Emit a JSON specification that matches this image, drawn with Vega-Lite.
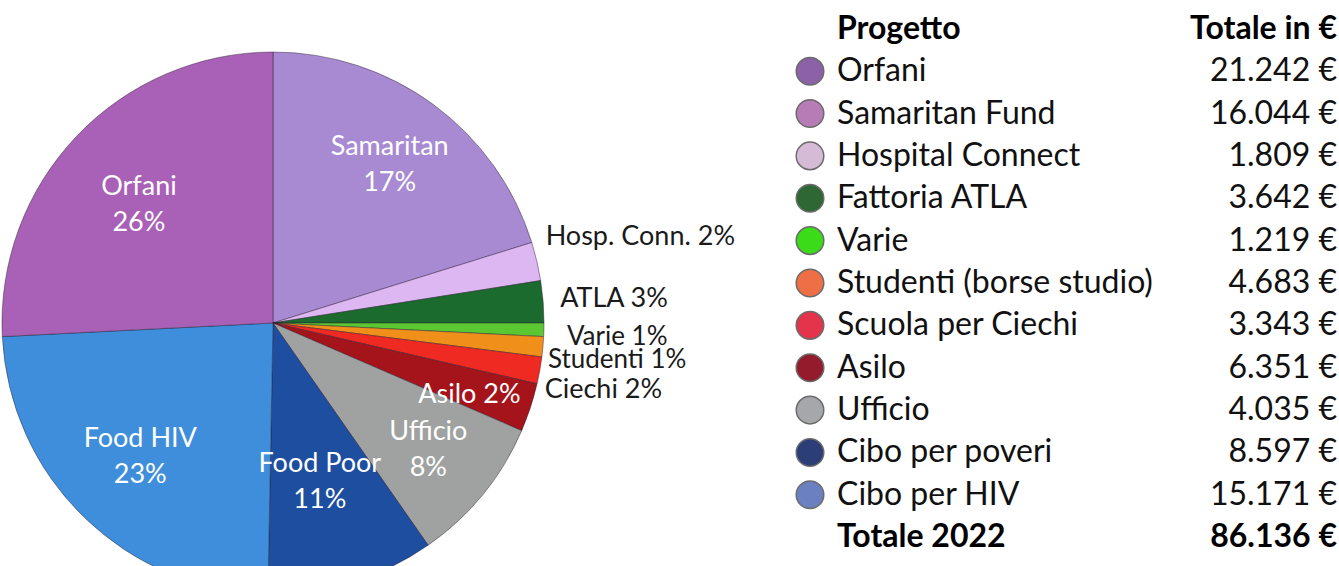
{
  "$schema": "https://vega.github.io/schema/vega-lite/v6.json",
  "background": "white",
  "padding": 0,
  "spacing": 266,
  "bounds": "flush",
  "resolve": {"scale": {"color": "independent"}},
  "config": {
    "view": {"stroke": null},
    "locale": {"number": {"decimal": ",", "thousands": ".", "grouping": [3], "currency": ["", " €"]}}
  },
  "datasets": {
    "pie": [
      {"idx": 1, "slice": "Samaritan", "share": 20.2, "inLabel": "Samaritan\n17%", "outLabel": ""},
      {"idx": 2, "slice": "Hosp. Conn.", "share": 2.3, "inLabel": "", "outLabel": "Hosp. Conn. 2%"},
      {"idx": 3, "slice": "ATLA", "share": 2.5, "inLabel": "", "outLabel": "ATLA 3%"},
      {"idx": 4, "slice": "Varie", "share": 0.8, "inLabel": "", "outLabel": "Varie 1%"},
      {"idx": 5, "slice": "Studenti", "share": 1.2, "inLabel": "", "outLabel": "Studenti 1%"},
      {"idx": 6, "slice": "Ciechi", "share": 1.6, "inLabel": "", "outLabel": "Ciechi 2%"},
      {"idx": 7, "slice": "Asilo", "share": 2.9, "inLabel": "Asilo 2%", "outLabel": ""},
      {"idx": 8, "slice": "Ufficio", "share": 8.8, "inLabel": "Ufficio\n8%", "outLabel": ""},
      {"idx": 9, "slice": "Food Poor", "share": 10.0, "inLabel": "Food Poor\n11%", "outLabel": ""},
      {"idx": 10, "slice": "Food HIV", "share": 23.9, "inLabel": "Food HIV\n23%", "outLabel": ""},
      {"idx": 11, "slice": "Orfani", "share": 25.8, "inLabel": "Orfani\n26%", "outLabel": ""}
    ],
    "table": [
      {"kind": "header", "name": "Progetto", "heading": "Totale in €"},
      {"kind": "item", "name": "Orfani", "amount": 21242},
      {"kind": "item", "name": "Samaritan Fund", "amount": 16044},
      {"kind": "item", "name": "Hospital Connect", "amount": 1809},
      {"kind": "item", "name": "Fattoria ATLA", "amount": 3642},
      {"kind": "item", "name": "Varie", "amount": 1219},
      {"kind": "item", "name": "Studenti (borse studio)", "amount": 4683},
      {"kind": "item", "name": "Scuola per Ciechi", "amount": 3343},
      {"kind": "item", "name": "Asilo", "amount": 6351},
      {"kind": "item", "name": "Ufficio", "amount": 4035},
      {"kind": "item", "name": "Cibo per poveri", "amount": 8597},
      {"kind": "item", "name": "Cibo per HIV", "amount": 15171},
      {"kind": "total", "name": "Totale 2022", "amount": 86136}
    ]
  },
  "hconcat": [
    {
      "width": 542,
      "height": 646,
      "data": {"name": "pie"},
      "encoding": {
        "theta": {"field": "share", "type": "quantitative", "stack": true},
        "order": {"field": "idx", "type": "quantitative"}
      },
      "layer": [
        {
          "mark": {"type": "arc", "radius": 271, "stroke": "#2a1a30", "strokeWidth": 1, "strokeOpacity": 0.45},
          "encoding": {
            "color": {
              "field": "slice", "type": "nominal", "legend": null,
              "scale": {
                "domain": ["Samaritan", "Hosp. Conn.", "ATLA", "Varie", "Studenti", "Ciechi", "Asilo", "Ufficio", "Food Poor", "Food HIV", "Orfani"],
                "range": ["#A88AD3", "#DDB7F2", "#1B6B2E", "#5BC832", "#F0901A", "#EE2A22", "#A5141B", "#9FA2A0", "#1D4E9F", "#3E8EDB", "#A861B6"]
              }
            }
          }
        },
        {
          "mark": {"type": "text", "radius": 185, "dx": 7, "dy": -27, "fill": "white", "font": "Lato", "fontSize": 27, "lineBreak": "\n", "lineHeight": 36, "align": "center", "baseline": "middle"},
          "encoding": {"text": {"condition": {"test": "datum.slice === 'Samaritan'", "field": "inLabel", "type": "nominal"}, "value": ""}}
        },
        {
          "mark": {"type": "text", "radius": 185, "dx": 0, "dy": -9, "fill": "white", "font": "Lato", "fontSize": 27, "lineBreak": "\n", "lineHeight": 36, "align": "center", "baseline": "middle"},
          "encoding": {"text": {"condition": {"test": "datum.slice === 'Orfani'", "field": "inLabel", "type": "nominal"}, "value": ""}}
        },
        {
          "mark": {"type": "text", "radius": 185, "dx": -4, "dy": -17, "fill": "white", "font": "Lato", "fontSize": 27, "lineBreak": "\n", "lineHeight": 36, "align": "center", "baseline": "middle"},
          "encoding": {"text": {"condition": {"test": "datum.slice === 'Food HIV'", "field": "inLabel", "type": "nominal"}, "value": ""}}
        },
        {
          "mark": {"type": "text", "radius": 185, "dx": -7, "dy": -36, "fill": "white", "font": "Lato", "fontSize": 27, "lineBreak": "\n", "lineHeight": 36, "align": "center", "baseline": "middle"},
          "encoding": {"text": {"condition": {"test": "datum.slice === 'Food Poor'", "field": "inLabel", "type": "nominal"}, "value": ""}}
        },
        {
          "mark": {"type": "text", "radius": 185, "dx": 12, "dy": -8, "fill": "white", "font": "Lato", "fontSize": 27, "lineBreak": "\n", "lineHeight": 36, "align": "center", "baseline": "middle"},
          "encoding": {"text": {"condition": {"test": "datum.slice === 'Ufficio'", "field": "inLabel", "type": "nominal"}, "value": ""}}
        },
        {
          "mark": {"type": "text", "radius": 212, "dx": -5, "dy": 6, "fill": "white", "font": "Lato", "fontSize": 27, "align": "center", "baseline": "middle"},
          "encoding": {"text": {"condition": {"test": "datum.slice === 'Asilo'", "field": "inLabel", "type": "nominal"}, "value": ""}}
        },
        {
          "mark": {"type": "text", "radius": 280, "dx": 0, "dy": -22, "fill": "#1a1a1a", "font": "Lato", "fontSize": 27, "align": "left", "baseline": "middle"},
          "encoding": {"text": {"condition": {"test": "datum.slice === 'Hosp. Conn.'", "field": "outLabel", "type": "nominal"}, "value": ""}}
        },
        {
          "mark": {"type": "text", "radius": 280, "dx": 8, "dy": -2, "fill": "#1a1a1a", "font": "Lato", "fontSize": 27, "align": "left", "baseline": "middle"},
          "encoding": {"text": {"condition": {"test": "datum.slice === 'ATLA'", "field": "outLabel", "type": "nominal"}, "value": ""}}
        },
        {
          "mark": {"type": "text", "radius": 280, "dx": 14, "dy": 7, "fill": "#1a1a1a", "font": "Lato", "fontSize": 26, "align": "left", "baseline": "middle"},
          "encoding": {"text": {"condition": {"test": "datum.slice === 'Varie'", "field": "outLabel", "type": "nominal"}, "value": ""}}
        },
        {
          "mark": {"type": "text", "radius": 280, "dx": -4, "dy": 12, "fill": "#1a1a1a", "font": "Lato", "fontSize": 26, "align": "left", "baseline": "middle"},
          "encoding": {"text": {"condition": {"test": "datum.slice === 'Studenti'", "field": "outLabel", "type": "nominal"}, "value": ""}}
        },
        {
          "mark": {"type": "text", "radius": 280, "dx": -4, "dy": 18, "fill": "#1a1a1a", "font": "Lato", "fontSize": 27, "align": "left", "baseline": "middle"},
          "encoding": {"text": {"condition": {"test": "datum.slice === 'Ciechi'", "field": "outLabel", "type": "nominal"}, "value": ""}}
        }
      ]
    },
    {
      "width": 527,
      "height": 566,
      "data": {"name": "table"},
      "encoding": {
        "y": {
          "field": "name", "type": "nominal", "axis": null,
          "scale": {
            "type": "point", "padding": 0.68,
            "domain": ["Progetto", "Orfani", "Samaritan Fund", "Hospital Connect", "Fattoria ATLA", "Varie", "Studenti (borse studio)", "Scuola per Ciechi", "Asilo", "Ufficio", "Cibo per poveri", "Cibo per HIV", "Totale 2022"]
          }
        }
      },
      "layer": [
        {
          "transform": [{"filter": "datum.kind === 'item'"}],
          "mark": {"type": "point", "shape": "circle", "filled": true, "size": 760, "stroke": "#6b6b6b", "strokeWidth": 1.5, "opacity": 1},
          "encoding": {
            "x": {"datum": 0, "type": "quantitative", "axis": null, "scale": {"domain": [0, 1], "nice": false, "zero": false}},
            "color": {
              "field": "name", "type": "nominal", "legend": null,
              "scale": {
                "domain": ["Orfani", "Samaritan Fund", "Hospital Connect", "Fattoria ATLA", "Varie", "Studenti (borse studio)", "Scuola per Ciechi", "Asilo", "Ufficio", "Cibo per poveri", "Cibo per HIV"],
                "range": ["#8D61A7", "#B77BB5", "#D6BBD7", "#2E6634", "#3BDB1A", "#EE6F45", "#E3344B", "#931B2B", "#A6A7AB", "#2C3E78", "#6A80C0"]
              }
            }
          }
        },
        {
          "transform": [{"filter": "datum.kind === 'item'"}],
          "mark": {"type": "text", "align": "left", "baseline": "middle", "dx": 27, "font": "Lato", "fontSize": 32, "fill": "#111111"},
          "encoding": {
            "x": {"datum": 0, "type": "quantitative", "axis": null, "scale": {"domain": [0, 1], "nice": false, "zero": false}},
            "text": {"field": "name", "type": "nominal"}
          }
        },
        {
          "transform": [{"filter": "datum.kind === 'item'"}],
          "mark": {"type": "text", "align": "right", "baseline": "middle", "font": "Lato", "fontSize": 32, "fill": "#111111"},
          "encoding": {
            "x": {"datum": 1, "type": "quantitative", "axis": null, "scale": {"domain": [0, 1], "nice": false, "zero": false}},
            "text": {"field": "amount", "type": "quantitative", "format": "$,.0f"}
          }
        },
        {
          "transform": [{"filter": "datum.kind !== 'item'"}],
          "mark": {"type": "text", "align": "left", "baseline": "middle", "dx": 27, "font": "Lato", "fontSize": 32, "fontWeight": "bold", "fill": "#000000"},
          "encoding": {
            "x": {"datum": 0, "type": "quantitative", "axis": null, "scale": {"domain": [0, 1], "nice": false, "zero": false}},
            "text": {"field": "name", "type": "nominal"}
          }
        },
        {
          "transform": [{"filter": "datum.kind === 'header'"}],
          "mark": {"type": "text", "align": "right", "baseline": "middle", "font": "Lato", "fontSize": 32, "fontWeight": "bold", "fill": "#000000"},
          "encoding": {
            "x": {"datum": 1, "type": "quantitative", "axis": null, "scale": {"domain": [0, 1], "nice": false, "zero": false}},
            "text": {"field": "heading", "type": "nominal"}
          }
        },
        {
          "transform": [{"filter": "datum.kind === 'total'"}],
          "mark": {"type": "text", "align": "right", "baseline": "middle", "font": "Lato", "fontSize": 32, "fontWeight": "bold", "fill": "#000000"},
          "encoding": {
            "x": {"datum": 1, "type": "quantitative", "axis": null, "scale": {"domain": [0, 1], "nice": false, "zero": false}},
            "text": {"field": "amount", "type": "quantitative", "format": "$,.0f"}
          }
        }
      ]
    }
  ]
}
